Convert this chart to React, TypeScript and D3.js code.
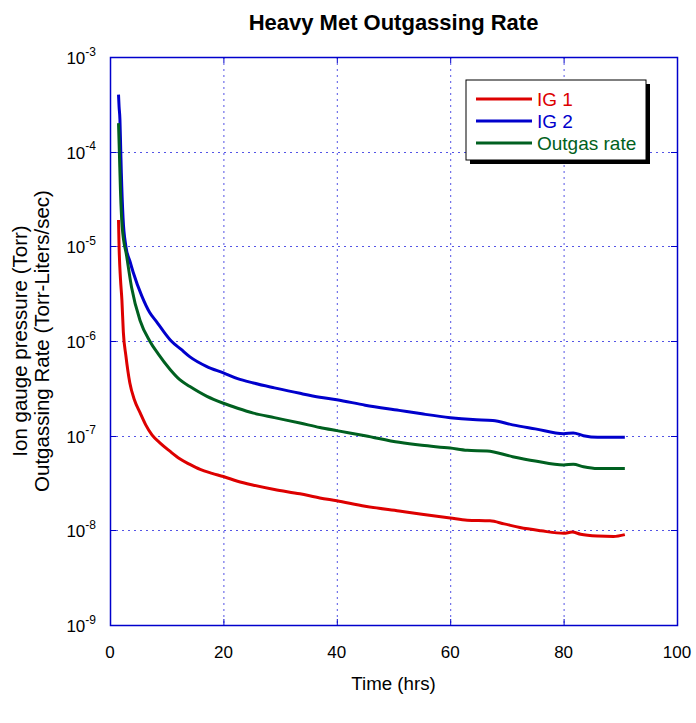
import { useEffect, useRef } from "react";
import * as d3 from "d3";

// [hours, value]
const ig1: [number, number][] = [
  [1.5, 1.9e-5], [1.6, 1.0e-5], [1.85, 4.5e-6], [2.1, 2.7e-6], [2.35, 1.25e-6],
  [2.8, 7e-7], [3.5, 3.6e-7], [4.3, 2.4e-7], [5.3, 1.75e-7], [6.3, 1.3e-7],
  [7.4, 1.02e-7], [8.8, 8.4e-8], [10.5, 6.9e-8], [12.3, 5.7e-8], [14, 5e-8],
  [15.9, 4.4e-8], [18, 4e-8], [20, 3.7e-8], [22.5, 3.3e-8], [25.3, 3.0e-8],
  [29, 2.7e-8], [33.5, 2.43e-8], [37, 2.2e-8], [40, 2.05e-8], [45, 1.8e-8],
  [51, 1.6e-8], [55, 1.48e-8], [60, 1.35e-8], [63, 1.28e-8], [67, 1.26e-8],
  [69.5, 1.17e-8], [72.3, 1.07e-8], [76, 9.9e-9], [80, 9.3e-9], [81.5, 9.6e-9],
  [83, 9.1e-9], [86, 8.7e-9], [88.8, 8.6e-9], [90.8, 9.0e-9],
];

const ig2: [number, number][] = [
  [1.5, 4.0e-4], [1.6, 3.0e-4], [1.75, 2.2e-4], [1.9, 1.0e-4], [2.0, 6e-5],
  [2.3, 2.0e-5], [2.8, 1.0e-5], [3.5, 7e-6], [4.1, 5.3e-6], [5.6, 3.0e-6],
  [7, 2.0e-6], [8.2, 1.6e-6], [9.5, 1.25e-6], [10.8, 1.0e-6], [12.5, 8.2e-7],
  [14.1, 6.8e-7], [17, 5.4e-7], [20, 4.6e-7], [22.5, 4.0e-7], [25.3, 3.6e-7],
  [29, 3.2e-7], [33.5, 2.8e-7], [37, 2.55e-7], [40, 2.4e-7], [45, 2.1e-7],
  [51, 1.85e-7], [55, 1.7e-7], [60, 1.55e-7], [64, 1.48e-7], [67.5, 1.45e-7],
  [71, 1.3e-7], [75, 1.18e-7], [80, 1.05e-7], [81.7, 1.07e-7], [83.5, 1.0e-7],
  [86, 9.6e-8], [90.8, 9.6e-8],
];

const outgas: [number, number][] = [
  [1.5, 2.0e-4], [1.65, 1.0e-4], [1.85, 3.8e-5], [2.15, 1.6e-5], [2.95, 7.8e-6],
  [3.8, 3.7e-6], [5.3, 1.65e-6], [7, 1.0e-6], [8.5, 7.3e-7], [10.6, 5.0e-7],
  [12.3, 3.9e-7], [14.1, 3.3e-7], [17.1, 2.6e-7], [20, 2.2e-7], [22.5, 1.95e-7],
  [25.3, 1.73e-7], [29, 1.55e-7], [33.5, 1.36e-7], [37, 1.22e-7], [40, 1.13e-7],
  [45, 1.0e-7], [51, 8.5e-8], [55, 7.9e-8], [60, 7.4e-8], [63, 7.0e-8],
  [66.5, 6.9e-8], [71, 6.0e-8], [75, 5.4e-8], [80, 4.9e-8], [81.7, 5.0e-8],
  [83.5, 4.7e-8], [86, 4.5e-8], [90.8, 4.5e-8],
];

const xTicks = [0, 20, 40, 60, 80, 100];
const yExponents = [-3, -4, -5, -6, -7, -8, -9];

const seriesNames = ["IG 1", "IG 2", "Outgas rate"];
const seriesColors = ["#dd0000", "#0000cc", "#006020"];

const App = () => {
  const ref = useRef<SVGSVGElement>(null);

  useEffect(() => {
    const width = 696;
    const height = 723;
    const left = 110, right = 677, top = 57, bottom = 625;
    const font = "'Liberation Sans', Arial, sans-serif";
    const frame = "#0000cc";

    const svg = d3.select(ref.current)
      .attr("width", width)
      .attr("height", height)
      .style("font-family", font);
    svg.selectAll("*").remove();

    svg.append("rect").attr("width", width).attr("height", height).attr("fill", "#fff");

    const x = d3.scaleLinear().domain([0, 100]).range([left, right]);
    const y = d3.scaleLog().domain([1e-9, 1e-3]).range([bottom, top]);

    // grid
    const grid = svg.append("g")
      .attr("stroke", "#2a2ae0")
      .attr("stroke-width", 1)
      .attr("stroke-dasharray", "2,4")
      .attr("opacity", 0.8);
    xTicks.slice(1, -1).forEach(t => {
      grid.append("line").attr("x1", x(t) + 0.5).attr("x2", x(t) + 0.5)
        .attr("y1", top).attr("y2", bottom);
    });
    yExponents.slice(1, -1).forEach(e => {
      grid.append("line").attr("x1", left).attr("x2", right)
        .attr("y1", Math.round(y(Math.pow(10, e))) + 0.5)
        .attr("y2", Math.round(y(Math.pow(10, e))) + 0.5);
    });

    // tick marks inward
    const ticks = svg.append("g").attr("stroke", frame).attr("stroke-width", 1);
    xTicks.forEach(t => {
      ticks.append("line").attr("x1", x(t) + 0.5).attr("x2", x(t) + 0.5)
        .attr("y1", bottom).attr("y2", bottom - 6);
      ticks.append("line").attr("x1", x(t) + 0.5).attr("x2", x(t) + 0.5)
        .attr("y1", top).attr("y2", top + 6);
    });
    yExponents.forEach(e => {
      const yy = Math.round(y(Math.pow(10, e))) + 0.5;
      ticks.append("line").attr("x1", left).attr("x2", left + 6).attr("y1", yy).attr("y2", yy);
      ticks.append("line").attr("x1", right).attr("x2", right - 6).attr("y1", yy).attr("y2", yy);
    });

    // frame
    svg.append("rect")
      .attr("x", left + 0.5).attr("y", top + 0.5)
      .attr("width", right - left).attr("height", bottom - top)
      .attr("fill", "none").attr("stroke", frame).attr("stroke-width", 1.5);

    // curves
    const line = d3.line<[number, number]>()
      .x(d => x(d[0]))
      .y(d => y(d[1]))
      .curve(d3.curveMonotoneX);

    [ig1, ig2, outgas].forEach((data, i) => {
      svg.append("path")
        .datum(data)
        .attr("fill", "none")
        .attr("stroke", seriesColors[i])
        .attr("stroke-width", 3)
        .attr("d", line);
    });

    // y tick labels
    yExponents.forEach(e => {
      const t = svg.append("text")
        .attr("x", 96)
        .attr("y", y(Math.pow(10, e)) + 7)
        .attr("text-anchor", "end")
        .style("font-size", "17px")
        .attr("fill", "#000");
      t.append("tspan").text("10");
      t.append("tspan").attr("dy", -8.5).style("font-size", "12px").text(String(e));
    });

    // x tick labels
    xTicks.forEach(tk => {
      svg.append("text")
        .attr("x", x(tk))
        .attr("y", 658)
        .attr("text-anchor", "middle")
        .style("font-size", "17px")
        .text(tk);
    });

    // titles
    svg.append("text")
      .attr("x", (left + right) / 2)
      .attr("y", 30)
      .attr("text-anchor", "middle")
      .style("font-size", "22px")
      .style("font-weight", "bold")
      .text("Heavy Met Outgassing Rate");

    svg.append("text")
      .attr("x", (left + right) / 2)
      .attr("y", 690)
      .attr("text-anchor", "middle")
      .style("font-size", "18.7px")
      .text("Time (hrs)");

    const yTitle = svg.append("text")
      .attr("transform", `translate(27,${(top + bottom) / 2}) rotate(-90)`)
      .attr("text-anchor", "middle")
      .style("font-size", "20.5px");
    yTitle.append("tspan").attr("x", 0).attr("y", 0).text("Ion gauge pressure (Torr)");
    yTitle.append("tspan").attr("x", 0).attr("y", 22).text("Outgassing Rate (Torr-Liters/sec)");

    // legend
    const lx = 466, ly = 80, lw = 180, lh = 80;
    svg.append("rect").attr("x", lx + 4).attr("y", ly + 4).attr("width", lw).attr("height", lh).attr("fill", "#000");
    svg.append("rect").attr("x", lx).attr("y", ly).attr("width", lw).attr("height", lh)
      .attr("fill", "#fff").attr("stroke", "#000").attr("stroke-width", 1);
    seriesNames.forEach((name, i) => {
      const yy = ly + 19 + i * 22;
      svg.append("line").attr("x1", lx + 10).attr("x2", lx + 66).attr("y1", yy).attr("y2", yy)
        .attr("stroke", seriesColors[i]).attr("stroke-width", 3);
      svg.append("text").attr("x", lx + 71).attr("y", yy + 7)
        .style("font-size", "19px").attr("fill", seriesColors[i]).text(name);
    });
  }, []);

  return <svg ref={ref} style={{ position: "absolute", left: 0, top: 0 }} />;
};

export default App;
